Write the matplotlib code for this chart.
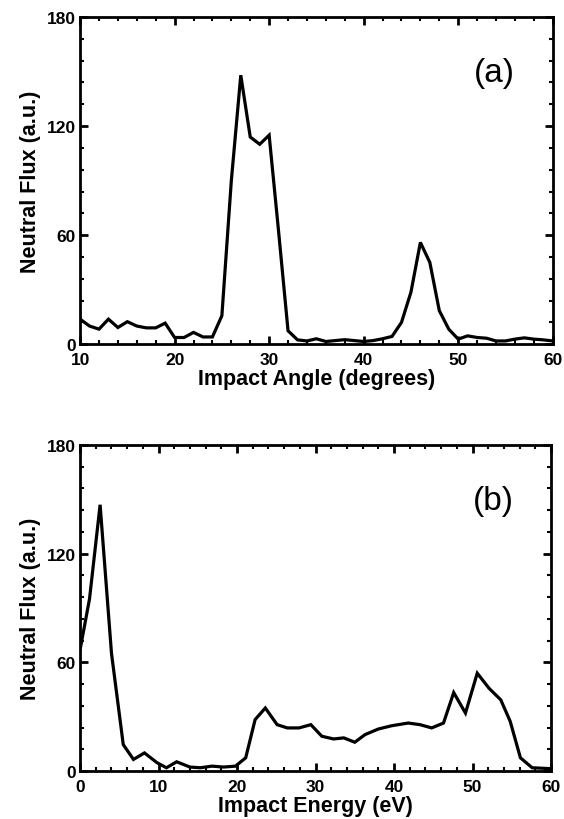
import matplotlib
matplotlib.use("Agg")
import matplotlib.pyplot as plt
from matplotlib.ticker import MultipleLocator

# (a) neutral flux vs impact angle
angle = [10, 11, 12, 13, 14, 15, 16, 17, 18, 19, 20, 21, 22, 23, 24, 25, 26, 27,
         28, 29, 30, 31, 32, 33, 34, 35, 36, 37, 38, 39, 40, 41, 42, 43, 44, 45,
         46, 47, 48, 49, 50, 51, 52, 53, 54, 55, 56, 57, 58, 59, 60]
flux_angle = [13.8, 10, 8.3, 13.8, 9.2, 12.4, 10, 9, 9, 11.6, 3.7, 3.7, 6.5, 4, 4,
              15.7, 90, 148, 114, 110, 115, 62, 7.4, 2.4, 1.8, 3, 1.5, 2, 2.5, 2,
              1.5, 2, 3, 4.3, 12, 28.6, 56, 45, 18.5, 8.3, 2.8, 4.6, 3.7, 3.3,
              1.8, 1.8, 2.8, 3.5, 2.8, 2.4, 1.8]

# (b) neutral flux vs impact energy
energy = [0, 1.2, 2.55, 4.0, 5.5, 6.8, 8.2, 9.8, 11.0, 12.3, 14.0, 15.3, 16.8,
          18.3, 19.8, 21.1, 22.3, 23.6, 25.1, 26.4, 27.9, 29.4, 30.8, 32.3, 33.6,
          35.0, 36.3, 38.0, 39.7, 41.8, 43.3, 44.8, 46.3, 47.6, 49.1, 50.6, 52.1,
          53.6, 54.8, 56.1, 57.6, 60]
flux_energy = [67, 95, 147, 65, 14.6, 6.4, 10, 4.6, 1.8, 5.1, 2.2, 1.8, 2.7, 2.2,
               2.7, 7.3, 28.4, 34.8, 25.6, 23.8, 23.8, 25.6, 19.2, 17.7, 18.3,
               15.9, 20.1, 23.2, 25, 26.5, 25.6, 23.8, 26.5, 43.3, 32, 54, 45.7,
               39.3, 27.4, 7.3, 1.8, 1.3]

plt.rcParams["font.family"] = ["Liberation Sans", "DejaVu Sans"]

fig = plt.figure(figsize=(5.64, 8.2), dpi=100)
ax_a = fig.add_axes([0.142, 0.579, 0.838, 0.399])
ax_b = fig.add_axes([0.142, 0.0585, 0.835, 0.3976])

panels = [
    (ax_a, angle, flux_angle, (10, 60), "Impact Angle (degrees)", "(a)"),
    (ax_b, energy, flux_energy, (0, 60), "Impact Energy (eV)", "(b)"),
]

for ax, x, y, xlim, xlabel, tag in panels:
    ax.plot(x, y, color="black", lw=2.3, solid_joinstyle="miter")
    ax.set_xlim(*xlim)
    ax.set_ylim(0, 180)
    ax.xaxis.set_major_locator(MultipleLocator(10))
    ax.xaxis.set_minor_locator(MultipleLocator(2))
    ax.yaxis.set_major_locator(MultipleLocator(60))
    ax.yaxis.set_minor_locator(MultipleLocator(12))
    ax.tick_params(which="both", direction="in", top=True, right=True,
                   labelsize=12.5, width=1.5)
    ax.tick_params(axis="x", pad=5.5)
    ax.tick_params(axis="y", pad=3)
    ax.tick_params(which="major", length=6, width=2)
    ax.tick_params(which="minor", length=3)
    for lbl in ax.get_xticklabels() + ax.get_yticklabels():
        lbl.set_fontweight("bold")
    for s in ax.spines.values():
        s.set_linewidth(2)
    ax.set_xlabel(xlabel, fontsize=15.5, fontweight="bold", labelpad=1)
    ax.set_ylabel("Neutral Flux (a.u.)", fontsize=15.5, fontweight="bold",
                  labelpad=4)
    ax.text(0.877, 0.83, tag, transform=ax.transAxes, fontsize=24,
            ha="center", va="center")

fig.savefig("out.png", dpi=100)
